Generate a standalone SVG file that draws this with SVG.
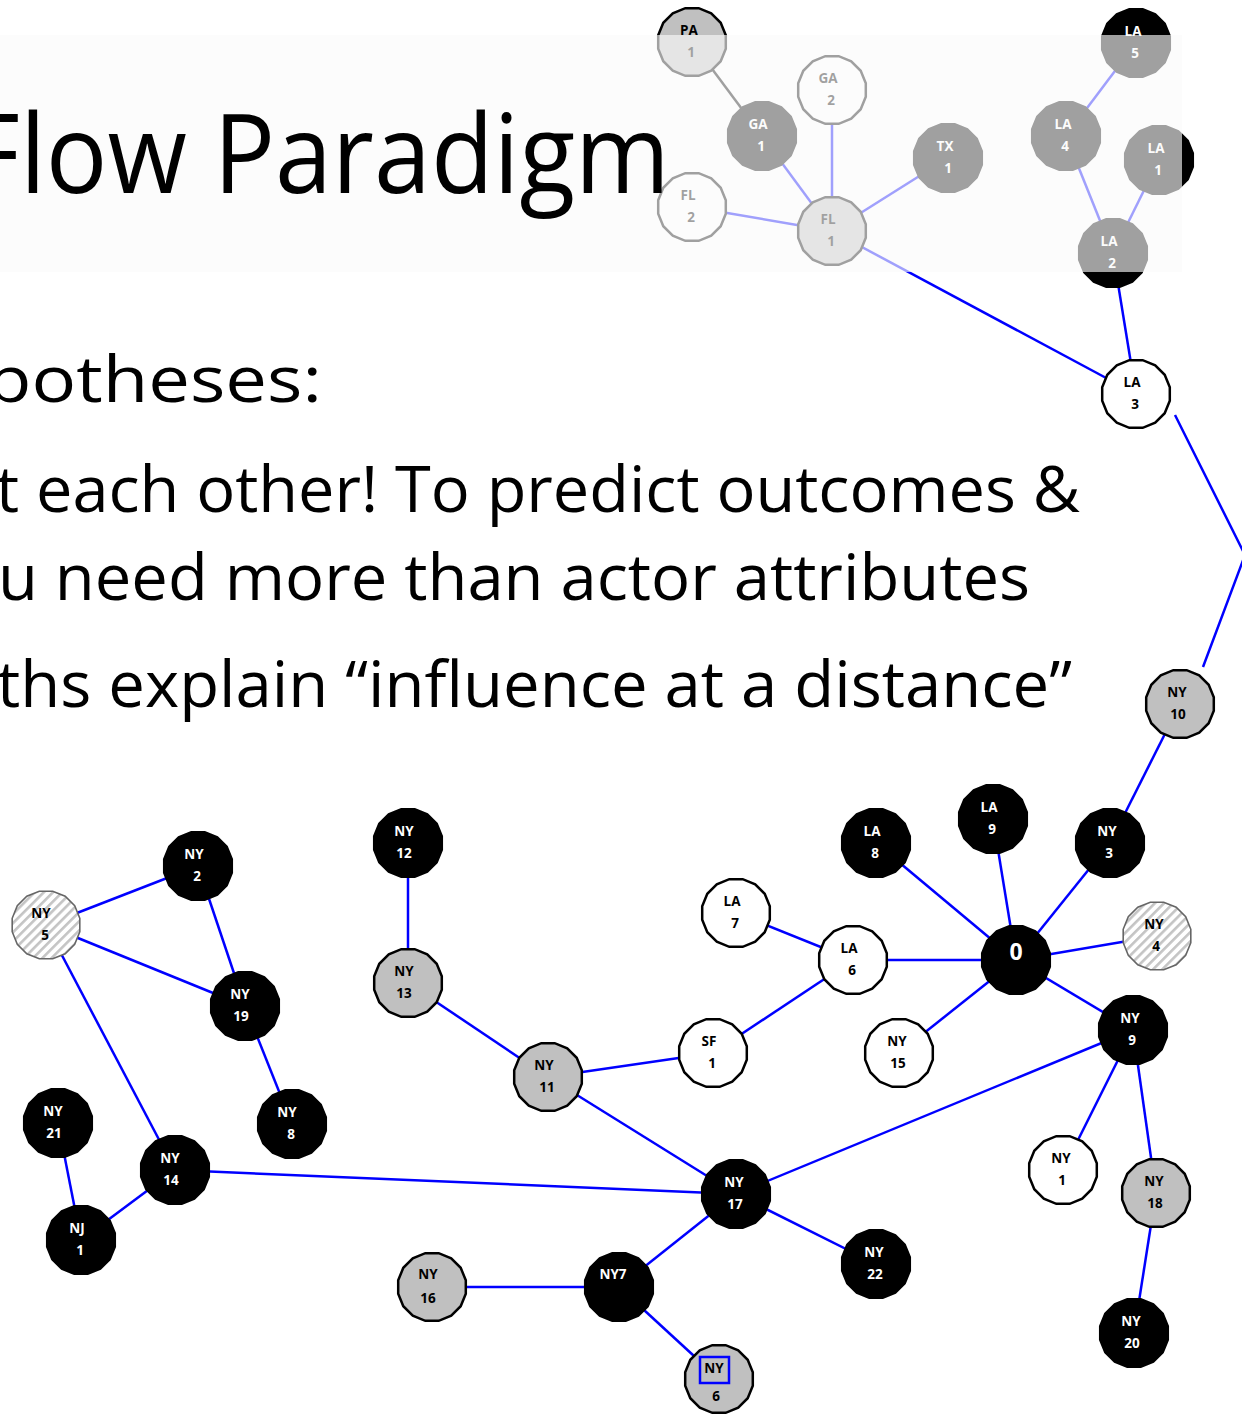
<svg xmlns="http://www.w3.org/2000/svg" xmlns:xlink="http://www.w3.org/1999/xlink" width="1242" height="1416" viewBox="0 0 1242 1416">
<style>
.e{stroke:#0000ff;stroke-width:2.5;fill:none}
.ek{stroke:#000;stroke-width:2.5;fill:none}
.nb{fill:#000;stroke:#000;stroke-width:2.5}
.nw{fill:#fff;stroke:#000;stroke-width:2.5}
.ng{fill:#c0c0c0;stroke:#000;stroke-width:2.5}
.nh{fill:url(#hatch);stroke:#666;stroke-width:1.6}
.lb{font-family:"Open Sans","DejaVu Sans",sans-serif;font-weight:700;font-size:13.5px;text-anchor:middle}
.lw{fill:#fff}
.lk{fill:#000}
.big{font-family:"Open Sans","DejaVu Sans",sans-serif;fill:#000}
</style>
<defs>
<polygon id="nd" points="33.8,6.7 28.7,19.2 19.2,28.7 6.7,33.8 -6.7,33.8 -19.2,28.7 -28.7,19.2 -33.8,6.7 -33.8,-6.7 -28.7,-19.2 -19.2,-28.7 -6.7,-33.8 6.7,-33.8 19.2,-28.7 28.7,-19.2 33.8,-6.7"/>
<pattern id="hatch" patternUnits="userSpaceOnUse" width="6.5" height="6.5" patternTransform="rotate(45)">
<rect width="6.5" height="6.5" fill="#fff"/>
<rect width="2.6" height="6.5" fill="#c4c4c4"/>
</pattern>
</defs>
<rect width="1242" height="1416" fill="#fff"/>
<g id="connectors">
<line class="ek" x1="692" y1="42" x2="762" y2="136"/>
<line class="e" x1="762" y1="136" x2="832" y2="231"/>
<line class="e" x1="832" y1="90" x2="832" y2="231"/>
<line class="e" x1="948" y1="158" x2="832" y2="231"/>
<line class="e" x1="692" y1="207" x2="832" y2="231"/>
<line class="e" x1="832" y1="231" x2="1136" y2="394"/>
<line class="e" x1="1136" y1="43" x2="1066" y2="136"/>
<line class="e" x1="1066" y1="136" x2="1113" y2="253"/>
<line class="e" x1="1159" y1="160" x2="1113" y2="253"/>
<line class="e" x1="1113" y1="253" x2="1136" y2="394"/>
<polyline class="e" points="1175,415 1245,555 1203,667"/>
<line class="e" x1="1180" y1="704" x2="1110" y2="843"/>
<line class="e" x1="1110" y1="843" x2="1016" y2="960"/>
<line class="e" x1="993" y1="819" x2="1016" y2="960"/>
<line class="e" x1="876" y1="843" x2="1016" y2="960"/>
<line class="e" x1="853" y1="960" x2="1016" y2="960"/>
<line class="e" x1="736" y1="913" x2="853" y2="960"/>
<line class="e" x1="853" y1="960" x2="713" y2="1053"/>
<line class="e" x1="1016" y1="960" x2="1157" y2="936"/>
<line class="e" x1="1016" y1="960" x2="899" y2="1053"/>
<line class="e" x1="1016" y1="960" x2="1133" y2="1030"/>
<line class="e" x1="1133" y1="1030" x2="736" y2="1194"/>
<line class="e" x1="1133" y1="1030" x2="1063" y2="1170"/>
<line class="e" x1="1133" y1="1030" x2="1156" y2="1193"/>
<line class="e" x1="1156" y1="1193" x2="1134" y2="1333"/>
<line class="e" x1="713" y1="1053" x2="548" y2="1077"/>
<line class="e" x1="408" y1="843" x2="408" y2="983"/>
<line class="e" x1="408" y1="983" x2="548" y2="1077"/>
<line class="e" x1="548" y1="1077" x2="736" y2="1194"/>
<line class="e" x1="175" y1="1170" x2="736" y2="1194"/>
<line class="e" x1="736" y1="1194" x2="876" y2="1264"/>
<line class="e" x1="736" y1="1194" x2="619" y2="1287"/>
<line class="e" x1="619" y1="1287" x2="432" y2="1287"/>
<line class="e" x1="619" y1="1287" x2="719" y2="1379"/>
<line class="e" x1="46" y1="925" x2="198" y2="866"/>
<line class="e" x1="46" y1="925" x2="245" y2="1006"/>
<line class="e" x1="198" y1="866" x2="245" y2="1006"/>
<line class="e" x1="245" y1="1006" x2="292" y2="1124"/>
<line class="e" x1="46" y1="925" x2="175" y2="1170"/>
<line class="e" x1="58" y1="1123" x2="81" y2="1240"/>
<line class="e" x1="81" y1="1240" x2="175" y2="1170"/>
</g>
<g id="node-PA1"><use href="#nd" x="692" y="42" class="ng"/><text class="lb lk" x="689" y="35">PA</text><text class="lb lk" x="691" y="57">1</text></g>
<g id="node-GA1"><use href="#nd" x="762" y="136" class="nb"/><text class="lb lw" x="758" y="129">GA</text><text class="lb lw" x="761" y="151">1</text></g>
<g id="node-GA2"><use href="#nd" x="832" y="90" class="nw"/><text class="lb lk" x="828" y="83">GA</text><text class="lb lk" x="831" y="105">2</text></g>
<g id="node-FL2"><use href="#nd" x="692" y="207" class="nw"/><text class="lb lk" x="688" y="200">FL</text><text class="lb lk" x="691" y="222">2</text></g>
<g id="node-FL1"><use href="#nd" x="832" y="231" class="ng"/><text class="lb lk" x="828" y="224">FL</text><text class="lb lk" x="831" y="246">1</text></g>
<g id="node-TX1"><use href="#nd" x="948" y="158" class="nb"/><text class="lb lw" x="945" y="151">TX</text><text class="lb lw" x="948" y="173">1</text></g>
<g id="node-LA5"><use href="#nd" x="1136" y="43" class="nb"/><text class="lb lw" x="1133" y="36">LA</text><text class="lb lw" x="1135" y="58">5</text></g>
<g id="node-LA4"><use href="#nd" x="1066" y="136" class="nb"/><text class="lb lw" x="1063" y="129">LA</text><text class="lb lw" x="1065" y="151">4</text></g>
<g id="node-LA1"><use href="#nd" x="1159" y="160" class="nb"/><text class="lb lw" x="1156" y="153">LA</text><text class="lb lw" x="1158" y="175">1</text></g>
<g id="node-LA2"><use href="#nd" x="1113" y="253" class="nb"/><text class="lb lw" x="1109" y="246">LA</text><text class="lb lw" x="1112" y="268">2</text></g>
<g id="node-LA3"><use href="#nd" x="1136" y="394" class="nw"/><text class="lb lk" x="1132" y="387">LA</text><text class="lb lk" x="1135" y="409">3</text></g>
<g id="node-NY10"><use href="#nd" x="1180" y="704" class="ng"/><text class="lb lk" x="1177" y="697">NY</text><text class="lb lk" x="1178" y="719">10</text></g>
<g id="node-NY3"><use href="#nd" x="1110" y="843" class="nb"/><text class="lb lw" x="1107" y="836">NY</text><text class="lb lw" x="1109" y="858">3</text></g>
<g id="node-LA9"><use href="#nd" x="993" y="819" class="nb"/><text class="lb lw" x="989" y="812">LA</text><text class="lb lw" x="992" y="834">9</text></g>
<g id="node-LA8"><use href="#nd" x="876" y="843" class="nb"/><text class="lb lw" x="872" y="836">LA</text><text class="lb lw" x="875" y="858">8</text></g>
<g id="node-LA7"><use href="#nd" x="736" y="913" class="nw"/><text class="lb lk" x="732" y="906">LA</text><text class="lb lk" x="735" y="928">7</text></g>
<g id="node-LA6"><use href="#nd" x="853" y="960" class="nw"/><text class="lb lk" x="849" y="953">LA</text><text class="lb lk" x="852" y="975">6</text></g>
<g id="node-0"><use href="#nd" x="1016" y="960" class="nb"/><text class="lb lw" x="1016" y="960" style="font-size:23px">0</text></g>
<g id="node-NY4"><use href="#nd" x="1157" y="936" class="nh"/><text class="lb lk" x="1154" y="929">NY</text><text class="lb lk" x="1156" y="951">4</text></g>
<g id="node-NY15"><use href="#nd" x="899" y="1053" class="nw"/><text class="lb lk" x="897" y="1046">NY</text><text class="lb lk" x="898" y="1068">15</text></g>
<g id="node-NY9"><use href="#nd" x="1133" y="1030" class="nb"/><text class="lb lw" x="1130" y="1023">NY</text><text class="lb lw" x="1132" y="1045">9</text></g>
<g id="node-NY1"><use href="#nd" x="1063" y="1170" class="nw"/><text class="lb lk" x="1061" y="1163">NY</text><text class="lb lk" x="1062" y="1185">1</text></g>
<g id="node-NY18"><use href="#nd" x="1156" y="1193" class="ng"/><text class="lb lk" x="1154" y="1186">NY</text><text class="lb lk" x="1155" y="1208">18</text></g>
<g id="node-NY20"><use href="#nd" x="1134" y="1333" class="nb"/><text class="lb lw" x="1131" y="1326">NY</text><text class="lb lw" x="1132" y="1348">20</text></g>
<g id="node-SF1"><use href="#nd" x="713" y="1053" class="nw"/><text class="lb lk" x="709" y="1046">SF</text><text class="lb lk" x="712" y="1068">1</text></g>
<g id="node-NY11"><use href="#nd" x="548" y="1077" class="ng"/><text class="lb lk" x="544" y="1070">NY</text><text class="lb lk" x="547" y="1092">11</text></g>
<g id="node-NY12"><use href="#nd" x="408" y="843" class="nb"/><text class="lb lw" x="404" y="836">NY</text><text class="lb lw" x="404" y="858">12</text></g>
<g id="node-NY13"><use href="#nd" x="408" y="983" class="ng"/><text class="lb lk" x="404" y="976">NY</text><text class="lb lk" x="404" y="998">13</text></g>
<g id="node-NY2"><use href="#nd" x="198" y="866" class="nb"/><text class="lb lw" x="194" y="859">NY</text><text class="lb lw" x="197" y="881">2</text></g>
<g id="node-NY5"><use href="#nd" x="46" y="925" class="nh"/><text class="lb lk" x="41" y="918">NY</text><text class="lb lk" x="45" y="940">5</text></g>
<g id="node-NY19"><use href="#nd" x="245" y="1006" class="nb"/><text class="lb lw" x="240" y="999">NY</text><text class="lb lw" x="241" y="1021">19</text></g>
<g id="node-NY8"><use href="#nd" x="292" y="1124" class="nb"/><text class="lb lw" x="287" y="1117">NY</text><text class="lb lw" x="291" y="1139">8</text></g>
<g id="node-NY21"><use href="#nd" x="58" y="1123" class="nb"/><text class="lb lw" x="53" y="1116">NY</text><text class="lb lw" x="54" y="1138">21</text></g>
<g id="node-NY14"><use href="#nd" x="175" y="1170" class="nb"/><text class="lb lw" x="170" y="1163">NY</text><text class="lb lw" x="171" y="1185">14</text></g>
<g id="node-NJ1"><use href="#nd" x="81" y="1240" class="nb"/><text class="lb lw" x="77" y="1233">NJ</text><text class="lb lw" x="80" y="1255">1</text></g>
<g id="node-NY17"><use href="#nd" x="736" y="1194" class="nb"/><text class="lb lw" x="734" y="1187">NY</text><text class="lb lw" x="735" y="1209">17</text></g>
<g id="node-NY22"><use href="#nd" x="876" y="1264" class="nb"/><text class="lb lw" x="874" y="1257">NY</text><text class="lb lw" x="875" y="1279">22</text></g>
<g id="node-NY7"><use href="#nd" x="619" y="1287" class="nb"/><text class="lb lw" x="613" y="1279">NY7</text></g>
<g id="node-NY16"><use href="#nd" x="432" y="1287" class="ng"/><text class="lb lk" x="428" y="1279">NY</text><text class="lb lk" x="428" y="1303">16</text></g>
<g id="node-NY6"><use href="#nd" x="719" y="1379" class="ng"/><text class="lb lk" x="714" y="1373">NY</text><text class="lb lk" x="716" y="1401">6</text><rect x="700" y="1357" width="29" height="26" fill="none" stroke="#0000ff" stroke-width="2.5"/></g>
<rect id="overlay" x="0" y="35" width="1182" height="237" fill="#fbfbfb" fill-opacity="0.64"/>
<g id="slide-text" class="big">
<text x="-33" y="193" font-size="109" textLength="703" lengthAdjust="spacingAndGlyphs">Flow Paradigm</text>
<text x="-14" y="402" font-size="64" textLength="336" lengthAdjust="spacingAndGlyphs">potheses:</text>
<text x="-4" y="512" font-size="64" textLength="1084" lengthAdjust="spacingAndGlyphs">t each other! To predict outcomes &amp;</text>
<text x="-2" y="600" font-size="64" textLength="1032" lengthAdjust="spacingAndGlyphs">u need more than actor attributes</text>
<text x="-3" y="707" font-size="64" textLength="1075" lengthAdjust="spacingAndGlyphs">ths explain “influence at a distance”</text>
</g>
</svg>
